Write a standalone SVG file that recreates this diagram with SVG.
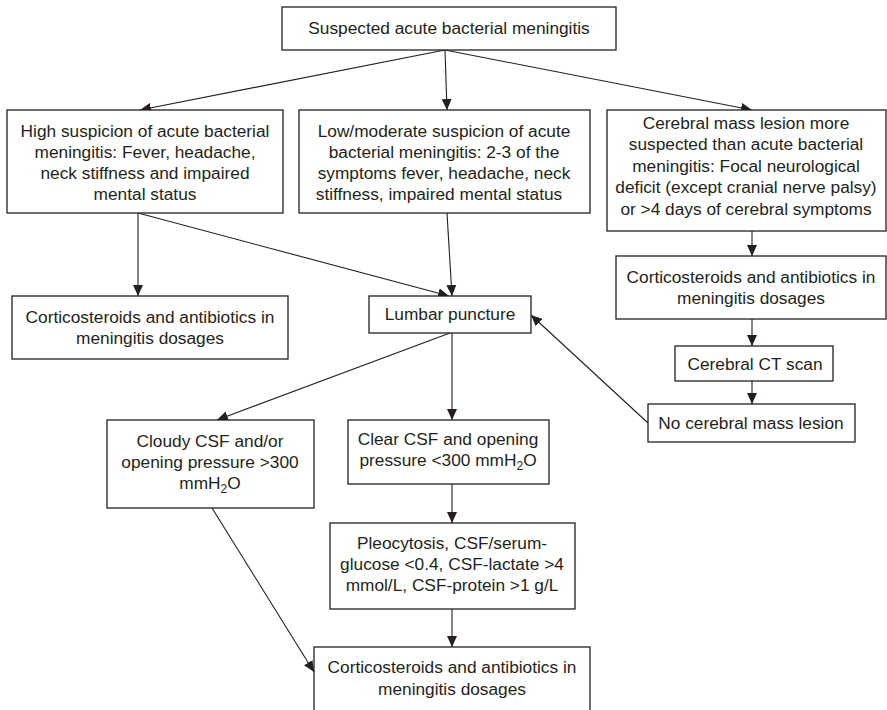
<svg xmlns="http://www.w3.org/2000/svg" width="887" height="710" viewBox="0 0 887 710">
<style>
.box{fill:#fff;stroke:#231f20;stroke-width:1.3}
text{font-family:"Liberation Sans",Arial,sans-serif;font-size:17.3px;fill:#231f20;text-anchor:middle}
.c{fill:none;stroke:#231f20;stroke-width:1.1}
</style>
<defs>
<marker id="ah" markerUnits="userSpaceOnUse" markerWidth="11" markerHeight="10" refX="11" refY="5" orient="auto">
<path d="M0,0 L11,5 L0,10 z" fill="#231f20"/>
</marker>
</defs>
<rect width="887" height="710" fill="#fff"/>
<g id="connectors">
<line class="c" x1="445" y1="50" x2="140" y2="110" marker-end="url(#ah)"/>
<line class="c" x1="445" y1="50" x2="447" y2="110" marker-end="url(#ah)"/>
<line class="c" x1="445" y1="50" x2="752" y2="110" marker-end="url(#ah)"/>
<line class="c" x1="138" y1="213" x2="138" y2="296" marker-end="url(#ah)"/>
<line class="c" x1="138" y1="213" x2="449" y2="296" marker-end="url(#ah)"/>
<line class="c" x1="447" y1="213" x2="452" y2="296" marker-end="url(#ah)"/>
<line class="c" x1="752" y1="231" x2="752" y2="256" marker-end="url(#ah)"/>
<line class="c" x1="752" y1="319" x2="752" y2="346" marker-end="url(#ah)"/>
<line class="c" x1="752" y1="381" x2="752" y2="404" marker-end="url(#ah)"/>
<line class="c" x1="648" y1="423" x2="531" y2="315" marker-end="url(#ah)"/>
<line class="c" x1="450" y1="333" x2="217" y2="420" marker-end="url(#ah)"/>
<line class="c" x1="452" y1="333" x2="452" y2="420" marker-end="url(#ah)"/>
<line class="c" x1="452" y1="484" x2="452" y2="523" marker-end="url(#ah)"/>
<line class="c" x1="452" y1="609" x2="452" y2="647" marker-end="url(#ah)"/>
<line class="c" x1="212" y1="508" x2="314" y2="672" marker-end="url(#ah)"/>
</g>
<g id="n-suspected">
<rect class="box" x="282" y="7" width="334" height="43"/>
<text x="449" y="34">Suspected acute bacterial meningitis</text>
</g>
<g id="n-high">
<rect class="box" x="7" y="110" width="276" height="103"/>
<text x="145" y="137">High suspicion of acute bacterial</text>
<text x="145" y="158">meningitis: Fever, headache,</text>
<text x="145" y="179">neck stiffness and impaired</text>
<text x="145" y="200">mental status</text>
</g>
<g id="n-low">
<rect class="box" x="299" y="110" width="291" height="103"/>
<text x="444" y="137">Low/moderate suspicion of acute</text>
<text x="444" y="158">bacterial meningitis: 2-3 of the</text>
<text x="444" y="179">symptoms fever, headache, neck</text>
<text x="439" y="200">stiffness, impaired mental status</text>
</g>
<g id="n-mass">
<rect class="box" x="607" y="110" width="279" height="121"/>
<text x="746" y="129">Cerebral mass lesion more</text>
<text x="746" y="150">suspected than acute bacterial</text>
<text x="746" y="172">meningitis: Focal neurological</text>
<text x="746" y="193">deficit (except cranial nerve palsy)</text>
<text x="746" y="215">or &gt;4 days of cerebral symptoms</text>
</g>
<g id="n-cortico-left">
<rect class="box" x="12" y="296" width="276" height="63"/>
<text x="150" y="323">Corticosteroids and antibiotics in</text>
<text x="150" y="344">meningitis dosages</text>
</g>
<g id="n-lumbar">
<rect class="box" x="369" y="296" width="162" height="37"/>
<text x="450" y="320">Lumbar puncture</text>
</g>
<g id="n-cortico-right">
<rect class="box" x="616" y="256" width="270" height="63"/>
<text x="751" y="283">Corticosteroids and antibiotics in</text>
<text x="751" y="304">meningitis dosages</text>
</g>
<g id="n-ct">
<rect class="box" x="675" y="346" width="158" height="35"/>
<text x="755" y="370">Cerebral CT scan</text>
</g>
<g id="n-nolesion">
<rect class="box" x="648" y="404" width="207" height="38"/>
<text x="751" y="429">No cerebral mass lesion</text>
</g>
<g id="n-cloudy">
<rect class="box" x="107" y="420" width="207" height="88"/>
<text x="210" y="447">Cloudy CSF and/or</text>
<text x="210" y="468">opening pressure &gt;300</text>
<text x="210" y="489">mmH<tspan font-size="12" dy="4">2</tspan><tspan dy="-4">O</tspan></text>
</g>
<g id="n-clear">
<rect class="box" x="348" y="420" width="201" height="64"/>
<text x="448" y="445">Clear CSF and opening</text>
<text x="448" y="466">pressure &lt;300 mmH<tspan font-size="12" dy="4">2</tspan><tspan dy="-4">O</tspan></text>
</g>
<g id="n-pleo">
<rect class="box" x="330" y="523" width="245" height="86"/>
<text x="452" y="549">Pleocytosis, CSF/serum-</text>
<text x="452" y="570">glucose &lt;0.4, CSF-lactate &gt;4</text>
<text x="452" y="591">mmol/L, CSF-protein &gt;1 g/L</text>
</g>
<g id="n-cortico-bottom">
<rect class="box" x="314" y="647" width="276" height="70"/>
<text x="452" y="673">Corticosteroids and antibiotics in</text>
<text x="452" y="695">meningitis dosages</text>
</g>
</svg>
